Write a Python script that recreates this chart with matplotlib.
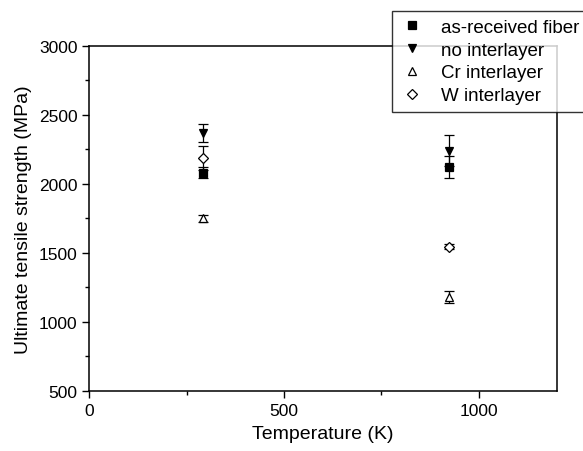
import matplotlib
matplotlib.use('Agg')
import matplotlib.pyplot as plt
from matplotlib.ticker import MultipleLocator

plt.rcParams['font.family'] = ['Liberation Sans', 'DejaVu Sans']

# Temperatures (K)
temps = [293, 923]

# Ultimate tensile strength (MPa) and error bars
asrec = [2080, 2120]
asrec_err = [40, 80]
no_inter = [2365, 2240]
no_inter_err = [65, 110]
cr_inter = [1750, 1180]
cr_inter_err = [25, 45]
w_inter = [2185, 1545]
w_inter_err = [85, 20]

labels = ['as-received fiber', 'no interlayer', 'Cr interlayer', 'W interlayer']

fig = plt.figure(figsize=(5.83, 4.52), dpi=100)
ax = fig.add_axes([0.153, 0.133, 0.802, 0.764])

common = dict(ls='none', ecolor='black', elinewidth=0.9, capsize=3.5,
              capthick=0.9, markersize=6, mew=0.9)
h1 = ax.errorbar(temps, asrec, yerr=asrec_err, fmt='s', color='black', **common)
h2 = ax.errorbar(temps, no_inter, yerr=no_inter_err, fmt='v', color='black', **common)
h3 = ax.errorbar(temps, cr_inter, yerr=cr_inter_err, fmt='^', color='black',
                 mfc='white', **common)
h4 = ax.errorbar(temps, w_inter, yerr=w_inter_err, fmt='D', color='black',
                 mfc='white', **{**common, 'markersize': 5.5})

ax.set_xlim(0, 1200)
ax.set_ylim(500, 3000)
ax.xaxis.set_major_locator(MultipleLocator(500))
ax.xaxis.set_minor_locator(MultipleLocator(250))
ax.yaxis.set_major_locator(MultipleLocator(500))
ax.yaxis.set_minor_locator(MultipleLocator(250))
ax.tick_params(which='major', direction='out', length=5, width=1, labelsize=12.5)
ax.tick_params(which='minor', direction='out', length=3, width=1)
for s in ax.spines.values():
    s.set_linewidth(1.1)

ax.set_xlabel('Temperature (K)', fontsize=14, labelpad=5)
ax.set_ylabel('Ultimate tensile strength (MPa)', fontsize=14, labelpad=5)

handles = [h[0] for h in (h1, h2, h3, h4)]
leg = fig.legend(handles, labels,
                 loc='upper left', bbox_to_anchor=(0.672, 0.973),
                 fontsize=13.5, frameon=True, fancybox=False,
                 handlelength=1.4, handletextpad=0.8, labelspacing=0.3,
                 borderpad=0.4, borderaxespad=0)
leg.get_frame().set_edgecolor('black')
leg.get_frame().set_linewidth(1.0)
leg.set_zorder(10)

fig.savefig('out.png', dpi=100)
